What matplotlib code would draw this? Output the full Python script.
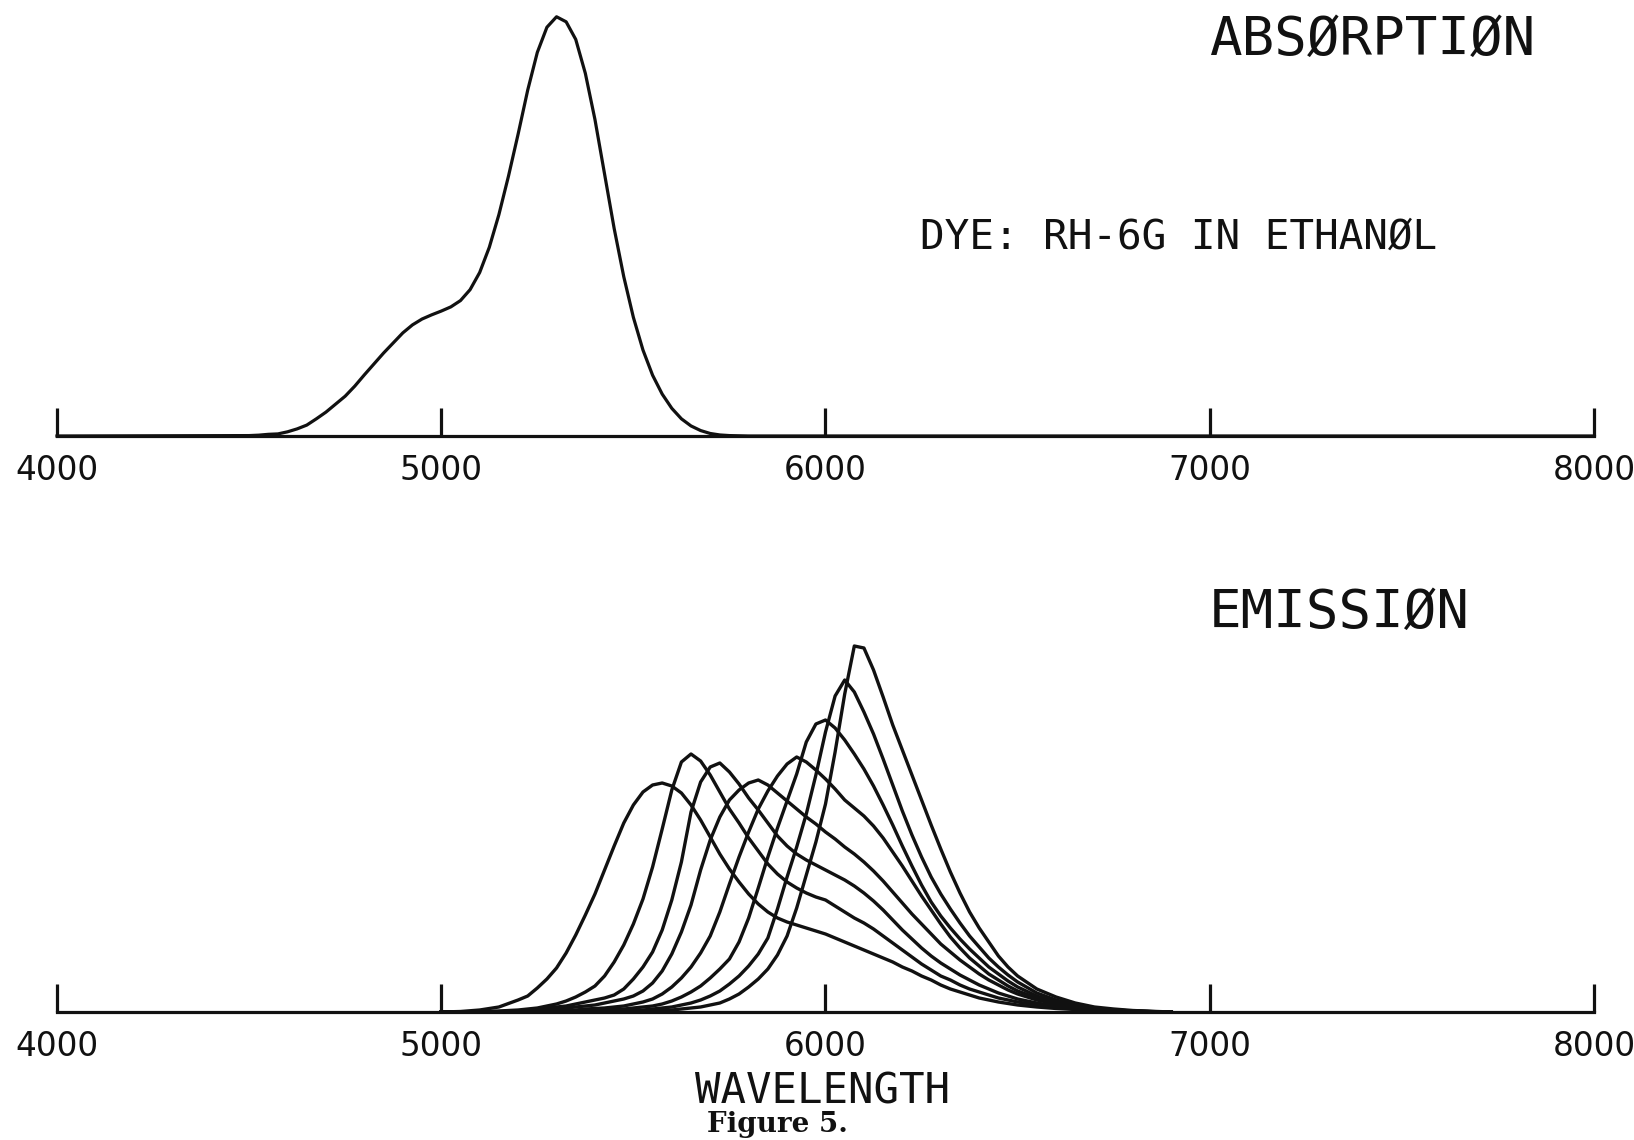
import matplotlib
matplotlib.use("Agg")
import matplotlib.pyplot as plt

# ---------------------------------------------------------------
# Rhodamine 6G in ethanol: absorption and emission spectra
# ---------------------------------------------------------------

AXIS_TICKS = [4000, 5000, 6000, 7000, 8000]
AXIS_LABELS = ["4000", "5000", "6000", "7000", "8000"]

# Absorption (relative absorbance, peak = 100)
ABS_WAVELENGTH = [4000] + list(range(4500, 5751, 25)) + [5800, 8000]
ABS_VALUE = [
    0,
    0.1, 0.2, 0.4, 0.5, 1.0, 1.7, 2.6, 4.1, 5.7, 7.6, 9.5, 11.9,
    14.6, 17.2, 19.8, 22.2, 24.6, 26.5, 27.9, 28.9, 29.8, 30.8, 32.3, 34.9,
    39.0, 45.0, 52.8, 62.0, 72.0, 82.5, 91.5, 97.5, 100, 98.8, 94.6, 86.5,
    75.5, 62.5, 49.5, 38.0, 28.3, 20.5, 14.5, 10.0, 6.6, 4.1, 2.4, 1.3,
    0.6, 0.25, 0.1,
    0, 0,
]

# Emission spectra (relative intensity, arbitrary units), one per concentration
EM_WAVELENGTH = ([5000, 5050, 5100, 5150]
                 + list(range(5200, 6501, 25))
                 + list(range(6550, 6901, 50)))

EM_A = [0, 0.5, 2, 5,
        12, 16, 24, 33, 44, 59, 77, 97, 118, 142, 166, 189,
        207, 220, 227, 229, 226, 219, 207, 192, 175, 158, 143, 130,
        118, 108, 100, 94, 90, 87, 84, 81, 78, 74, 70, 66,
        62, 58, 54, 50, 45, 41, 36, 32, 27, 23, 20, 17,
        14, 12, 10, 8.5, 7,
        5, 3.5, 2.5, 1.5, 1, 0.5, 0.2, 0]
EM_B = [0, 0, 0.5, 1,
        2, 3, 4, 6, 8, 11, 15, 20, 26, 36, 50, 67,
        88, 113, 145, 183, 222, 250, 258, 251, 237, 220, 203, 189,
        174, 161, 148, 138, 130, 124, 119, 115, 112, 106, 100, 94,
        89, 83, 76, 69, 62, 55, 48, 42, 36, 32, 27, 23,
        20, 17, 14, 12, 10,
        7, 5, 3, 2, 1, 0.5, 0.2, 0]
EM_C = [0, 0, 0, 0.5,
        1, 2, 3, 4, 5, 6, 8, 10, 12, 14, 17, 23,
        33, 45, 60, 82, 112, 150, 200, 230, 245, 249, 240, 228,
        214, 202, 189, 176, 166, 158, 152, 147, 142, 137, 132, 126,
        119, 111, 102, 92, 82, 73, 64, 56, 49, 43, 37, 32,
        27, 23, 19, 16, 13,
        9, 6, 4, 2, 1, 0.5, 0.2, 0]
EM_D = [0, 0, 0, 0,
        0.5, 1, 1.5, 2, 3, 4, 5, 6, 7, 9, 11, 13,
        16, 21, 29, 41, 58, 80, 107, 142, 172, 195, 212, 222,
        229, 232, 227, 219, 211, 203, 195, 188, 180, 173, 165, 158,
        150, 141, 131, 120, 109, 98, 88, 78, 68, 60, 52, 45,
        38, 32, 27, 22, 18,
        12, 8, 5, 3, 1.5, 0.7, 0.3, 0]
EM_E = [0, 0, 0, 0,
        0, 0, 0, 0.5, 1, 1.5, 2, 3, 3.5, 4, 5, 6,
        8, 10, 13, 18, 25, 34, 45, 59, 76, 100, 128, 155,
        180, 203, 221, 236, 248, 255, 250, 242, 233, 223, 212, 204,
        196, 186, 174, 160, 146, 131, 116, 102, 88, 75, 64, 54,
        46, 38, 32, 26, 21,
        14, 9, 5, 3, 1.5, 0.7, 0.3, 0]
EM_F = [0, 0, 0, 0,
        0, 0, 0, 0, 0, 0.5, 1, 1, 1.5, 2, 2.5, 3,
        4, 5, 6, 8, 11, 15, 20, 26, 34, 43, 53, 70,
        94, 124, 155, 184, 211, 238, 270, 288, 292, 284, 272, 258,
        243, 226, 207, 187, 166, 146, 127, 110, 96, 84, 73, 63,
        54, 45, 38, 31, 25,
        16, 10, 6, 3.5, 2, 1, 0.4, 0]
EM_G = [0, 0, 0, 0,
        0, 0, 0, 0, 0, 0, 0, 0, 0, 0.5, 1, 1,
        1.5, 2, 3, 4, 5, 7, 9, 12, 16, 21, 28, 36,
        46, 58, 74, 103, 135, 165, 198, 237, 280, 316, 332, 320,
        300, 278, 253, 227, 201, 177, 155, 135, 118, 103, 89, 76,
        65, 54, 45, 37, 30,
        19, 12, 7, 4, 2, 1, 0.4, 0]
EM_H = [0, 0, 0, 0,
        0, 0, 0, 0, 0, 0, 0, 0, 0, 0, 0, 0,
        0, 0.5, 1, 1.5, 2, 3, 4, 5, 7, 9, 13, 18,
        25, 33, 43, 57, 76, 104, 137, 170, 208, 260, 318, 366,
        364, 342, 315, 287, 262, 237, 212, 187, 163, 140, 119, 100,
        84, 70, 56, 45, 36,
        23, 15, 9, 5, 3, 1.5, 0.7, 0]
EMISSION = [EM_A, EM_B, EM_C, EM_D, EM_E, EM_F, EM_G, EM_H]

INK = "#111111"
W, H = 1634, 1140

fig = plt.figure(figsize=(W / 100, H / 100), dpi=100)
fig.patch.set_facecolor("white")


def style_axis(ax, ytop):
    ax.set_xlim(4000, 8000)
    ax.set_ylim(0, ytop)
    for side in ("left", "right", "top"):
        ax.spines[side].set_visible(False)
    ax.spines["bottom"].set_linewidth(2.3)
    ax.spines["bottom"].set_color(INK)
    ax.set_yticks([])
    ax.set_xticks(AXIS_TICKS)
    ax.set_xticklabels(AXIS_LABELS, family="DejaVu Sans", fontsize=23.5,
                       color=INK)
    ax.tick_params(axis="x", direction="in", length=20, width=2.3,
                   color=INK, pad=13)
    ax.patch.set_alpha(0)


# upper panel: absorption
ax_abs = fig.add_axes([57 / W, (H - 436) / H, 1537 / W, 436 / H])
style_axis(ax_abs, 104)
ax_abs.plot(ABS_WAVELENGTH, ABS_VALUE, color=INK, lw=2.3,
            solid_joinstyle="round", clip_on=False)

# lower panel: emission
ax_em = fig.add_axes([57 / W, (H - 1012) / H, 1537 / W, 452 / H])
style_axis(ax_em, 452)
for series in EMISSION:
    ax_em.plot(EM_WAVELENGTH, series, color=INK, lw=2.4,
               solid_joinstyle="round", clip_on=False)

mono = "DejaVu Sans Mono"
fig.text(1209 / W, 1 - 55 / H, "ABSØRPTIØN", family=mono, fontsize=39,
         color=INK, ha="left", va="baseline")
fig.text(920 / W, 1 - 249 / H, "DYE: RH-6G IN ETHANØL", family=mono,
         fontsize=29.5, color=INK, ha="left", va="baseline")
fig.text(1209 / W, 1 - 628 / H, "EMISSIØN", family=mono, fontsize=39,
         color=INK, ha="left", va="baseline")
fig.text(823 / W, 1 - 1103 / H, "WAVELENGTH", family=mono, fontsize=30.5,
         color=INK, ha="center", va="baseline")
fig.text(777 / W, 1 - 1132 / H, "Figure 5.", family="DejaVu Serif",
         fontweight="bold", fontsize=20, color=INK, ha="center",
         va="baseline")

fig.savefig("out.png", dpi=100, facecolor="white")
